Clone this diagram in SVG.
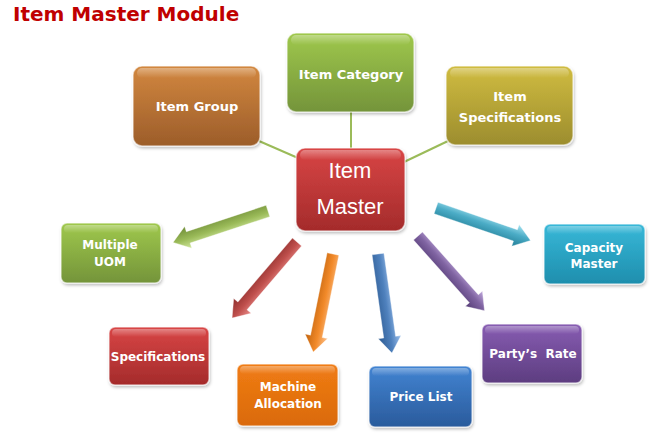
<svg xmlns="http://www.w3.org/2000/svg" xmlns:xlink="http://www.w3.org/1999/xlink" width="665" height="436" viewBox="0 0 665 436">
<style>
.node rect.box{stroke:#ffffff;stroke-opacity:0.55;stroke-width:1.5;filter:url(#shadow)}
.lbl{font-family:"DejaVu Sans",Verdana,sans-serif;font-weight:bold;fill:#ffffff;text-anchor:middle}
.big{font-size:13px}
.sm{font-size:12px}
.ctr{font-family:"Liberation Sans",Arial,sans-serif;font-size:22px;fill:#ffffff;text-anchor:middle}
.link{stroke:#9BBB59;stroke-width:2;fill:none}
.title{font-family:"DejaVu Sans",Verdana,sans-serif;font-weight:bold;font-size:20px;fill:#C00000}
</style>
<defs>
<filter id="shadow" x="-10%" y="-10%" width="125%" height="130%">
<feDropShadow dx="1" dy="2" stdDeviation="1.5" flood-color="#000" flood-opacity="0.25"/>
</filter>
<linearGradient id="gBrown" x1="0" y1="0" x2="0" y2="1"><stop offset="0" stop-color="#D2873F"/><stop offset="1" stop-color="#9C5D2A"/></linearGradient>
<linearGradient id="gGreen" x1="0" y1="0" x2="0" y2="1"><stop offset="0" stop-color="#9FC84C"/><stop offset="1" stop-color="#74943A"/></linearGradient>
<linearGradient id="gOlive" x1="0" y1="0" x2="0" y2="1"><stop offset="0" stop-color="#D0BC40"/><stop offset="1" stop-color="#9C8D2E"/></linearGradient>
<linearGradient id="gRed" x1="0" y1="0" x2="0" y2="1"><stop offset="0" stop-color="#D84545"/><stop offset="1" stop-color="#A42B2B"/></linearGradient>
<linearGradient id="gOrange" x1="0" y1="0" x2="0" y2="1"><stop offset="0" stop-color="#F07C14"/><stop offset="1" stop-color="#DA6A0A"/></linearGradient>
<linearGradient id="gTeal" x1="0" y1="0" x2="0" y2="1"><stop offset="0" stop-color="#38B8D8"/><stop offset="1" stop-color="#1E8EAD"/></linearGradient>
<linearGradient id="gPurple" x1="0" y1="0" x2="0" y2="1"><stop offset="0" stop-color="#875CB2"/><stop offset="1" stop-color="#5D3D80"/></linearGradient>
<linearGradient id="gBlue" x1="0" y1="0" x2="0" y2="1"><stop offset="0" stop-color="#4284D2"/><stop offset="1" stop-color="#2A5B9C"/></linearGradient>
<linearGradient id="aGreen" x1="0" y1="0" x2="0" y2="1"><stop offset="0" stop-color="#D2E8A0"/><stop offset="0.45" stop-color="#9BBB59"/><stop offset="1" stop-color="#6E8C36"/></linearGradient>
<linearGradient id="aRed" x1="0" y1="0" x2="0" y2="1"><stop offset="0" stop-color="#E88C8A"/><stop offset="0.45" stop-color="#C0504D"/><stop offset="1" stop-color="#8E2E2C"/></linearGradient>
<linearGradient id="aOrange" x1="0" y1="0" x2="0" y2="1"><stop offset="0" stop-color="#FBC08A"/><stop offset="0.45" stop-color="#F28A2A"/><stop offset="1" stop-color="#C0620C"/></linearGradient>
<linearGradient id="aBlue" x1="0" y1="0" x2="0" y2="1"><stop offset="0" stop-color="#9CC0EC"/><stop offset="0.45" stop-color="#4F81BD"/><stop offset="1" stop-color="#2C5A92"/></linearGradient>
<linearGradient id="aPurple" x1="0" y1="0" x2="0" y2="1"><stop offset="0" stop-color="#C0A8DC"/><stop offset="0.45" stop-color="#8064A2"/><stop offset="1" stop-color="#553C76"/></linearGradient>
<linearGradient id="aTeal" x1="0" y1="0" x2="0" y2="1"><stop offset="0" stop-color="#A8E4F2"/><stop offset="0.45" stop-color="#4BACC6"/><stop offset="1" stop-color="#237F98"/></linearGradient>
<linearGradient id="gloss" x1="0" y1="0" x2="0" y2="1"><stop offset="0" stop-color="#fff" stop-opacity="0.35"/><stop offset="1" stop-color="#fff" stop-opacity="0"/></linearGradient>
<polygon id="arrow" points="0,-6 84,-6 84,-11.5 100,0 84,11.5 84,6 0,6" stroke="#ffffff" stroke-opacity="0.45" stroke-width="0.8"/>
</defs>

<text class="title" x="13" y="21">Item Master Module</text>

<g id="connectors">
<line class="link" x1="259" y1="141" x2="298" y2="158"/>
<line class="link" x1="351" y1="112" x2="351" y2="148"/>
<line class="link" x1="448" y1="141" x2="404" y2="162"/>
<use xlink:href="#arrow" href="#arrow" fill="url(#aGreen)" transform="translate(268,211) rotate(161.7)"/>
<use xlink:href="#arrow" href="#arrow" fill="url(#aRed)" transform="translate(297,242) rotate(130.5)"/>
<use xlink:href="#arrow" href="#arrow" fill="url(#aOrange)" transform="translate(333,254) rotate(101.4)"/>
<use xlink:href="#arrow" href="#arrow" fill="url(#aBlue)" transform="translate(378,254) rotate(82)"/>
<use xlink:href="#arrow" href="#arrow" fill="url(#aPurple)" transform="translate(418,236) rotate(48.3)"/>
<use xlink:href="#arrow" href="#arrow" fill="url(#aTeal)" transform="translate(436,208) rotate(19)"/>
</g>

<g id="item-group" class="node">
<rect class="box" x="133" y="66" width="127" height="80" rx="9" fill="url(#gBrown)"/>
<rect x="137" y="68" width="119" height="10" rx="5" fill="url(#gloss)"/>
<text class="lbl big" x="197" y="111">Item Group</text>
</g>

<g id="item-category" class="node">
<rect class="box" x="287" y="33" width="127" height="79" rx="9" fill="url(#gGreen)"/>
<rect x="291" y="35" width="119" height="10" rx="5" fill="url(#gloss)"/>
<text class="lbl big" x="351" y="79">Item Category</text>
</g>

<g id="item-specifications" class="node">
<rect class="box" x="446" y="66" width="127" height="79" rx="9" fill="url(#gOlive)"/>
<rect x="450" y="68" width="119" height="10" rx="5" fill="url(#gloss)"/>
<text class="lbl big" x="510" y="101">Item</text>
<text class="lbl big" x="510" y="122">Specifications</text>
</g>

<g id="item-master" class="node">
<rect class="box" x="296" y="148" width="109" height="83" rx="9" fill="url(#gRed)"/>
<rect x="300" y="150" width="101" height="10" rx="5" fill="url(#gloss)"/>
<text class="ctr" x="350" y="178">Item</text>
<text class="ctr" x="350" y="214">Master</text>
</g>

<g id="multiple-uom" class="node">
<rect class="box" x="61" y="223" width="100" height="60" rx="6" fill="url(#gGreen)"/>
<rect x="64" y="225" width="94" height="8" rx="4" fill="url(#gloss)"/>
<text class="lbl sm" x="110" y="249">Multiple</text>
<text class="lbl sm" x="110" y="266">UOM</text>
</g>

<g id="specifications" class="node">
<rect class="box" x="109" y="327" width="100" height="58" rx="6" fill="url(#gRed)"/>
<rect x="112" y="329" width="94" height="8" rx="4" fill="url(#gloss)"/>
<text class="lbl sm" x="158" y="361">Specifications</text>
</g>

<g id="machine-allocation" class="node">
<rect class="box" x="237" y="364" width="101" height="62" rx="6" fill="url(#gOrange)"/>
<rect x="240" y="366" width="95" height="8" rx="4" fill="url(#gloss)"/>
<text class="lbl sm" x="288" y="391">Machine</text>
<text class="lbl sm" x="288" y="408">Allocation</text>
</g>

<g id="price-list" class="node">
<rect class="box" x="369" y="366" width="103" height="61" rx="6" fill="url(#gBlue)"/>
<rect x="372" y="368" width="97" height="8" rx="4" fill="url(#gloss)"/>
<text class="lbl sm" x="421" y="401">Price List</text>
</g>

<g id="partys-rate" class="node">
<rect class="box" x="482" y="324" width="100" height="59" rx="6" fill="url(#gPurple)"/>
<rect x="485" y="326" width="94" height="8" rx="4" fill="url(#gloss)"/>
<text class="lbl sm" x="533" y="358" xml:space="preserve">Party’s  Rate</text>
</g>

<g id="capacity-master" class="node">
<rect class="box" x="544" y="224" width="101" height="60" rx="6" fill="url(#gTeal)"/>
<rect x="547" y="226" width="95" height="8" rx="4" fill="url(#gloss)"/>
<text class="lbl sm" x="594" y="252">Capacity</text>
<text class="lbl sm" x="594" y="268">Master</text>
</g>
</svg>
